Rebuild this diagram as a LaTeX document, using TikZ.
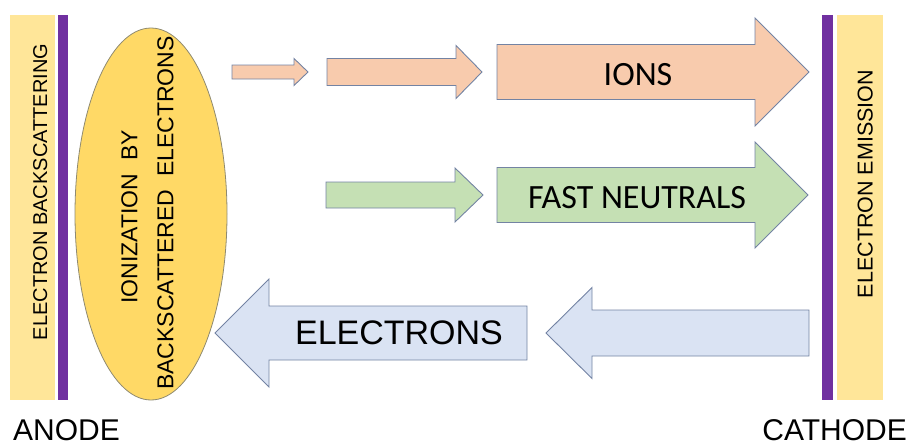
\documentclass[tikz,border=0pt]{standalone}
\usepackage{fontspec}
\usetikzlibrary{shapes.geometric}
\setmainfont{Liberation Sans}
\newfontfamily\calfont{Carlito}
\definecolor{stripfill}{HTML}{FFE699}
\definecolor{plate}{HTML}{7030A0}
\definecolor{cloudfill}{HTML}{FFD966}
\definecolor{cloudline}{HTML}{8F8A70}
\definecolor{ionfill}{HTML}{F8CBAD}
\definecolor{neutralfill}{HTML}{C5E0B4}
\definecolor{electronfill}{HTML}{DAE3F3}
\definecolor{arrowline}{HTML}{7383A3}

% block arrow: style, tail x, tip x, centre y, shaft half-height, head half-height, head base x
\newcommand{\blockarrow}[7]{%
  \draw[#1] (#2,#4-#5) -- (#7,#4-#5) -- (#7,#4-#6) -- (#3,#4) -- (#7,#4+#6)
    -- (#7,#4+#5) -- (#2,#4+#5) -- cycle;}

\tikzset{
  arrowbody/.style={draw=arrowline, line width=0.9pt, line join=miter},
  ionarrow/.style={arrowbody, fill=ionfill},
  neutralarrow/.style={arrowbody, fill=neutralfill},
  electronarrow/.style={arrowbody, fill=electronfill},
  % text centred on its capitals: the argument is the cap height
  caps/.style={inner sep=0pt, text depth=0pt, text height=#1},
  sidelabel/.style={caps=#1, rotate=90},
  electrode/.style={inner sep=0pt, text depth=0pt, font=\fontsize{30}{36}\selectfont},
}

\begin{document}
\begin{tikzpicture}[x=1pt, y=-1pt]
  \useasboundingbox (0,0) rectangle (909,444);

  % anode side
  \fill[stripfill] (10,15) rectangle (55,400);
  \fill[plate] (58,15) rectangle (68,400);
  \node[sidelabel=14.3pt, font=\fontsize{20}{24}\selectfont] (backscatter) at (40,192)
    {ELECTRON BACKSCATTERING};

  % cathode side
  \fill[plate] (822,15) rectangle (833,400);
  \fill[stripfill] (837,15) rectangle (883,400);
  \node[sidelabel=15.4pt, font=\fontsize{21.5}{25}\selectfont] (emission) at (865,184)
    {ELECTRON EMISSION};

  % ionization region
  \node[ellipse, draw=cloudline, fill=cloudfill, line width=0.8pt,
        minimum width=152pt, minimum height=372pt, inner sep=0pt] (cloud) at (151,214) {};
  \node[sidelabel=16.5pt, font=\fontsize{23}{27}\selectfont] (ionline) at (129,217)
    {IONIZATION\ \ BY};
  \node[sidelabel=16.5pt, font=\fontsize{23}{27}\selectfont] (backline) at (165,213)
    {BACKSCATTERED\ \ ELECTRONS};

  % ions
  \blockarrow{ionarrow}{232}{308}{72}{7}{13.5}{294}
  \blockarrow{ionarrow}{327}{482}{72}{13.5}{26.5}{456}
  \blockarrow{ionarrow}{497}{809}{72}{27.5}{54}{755}
  \node[caps=21.9pt, font=\calfont\fontsize{34}{40}\selectfont] (ions) at (638,74.5) {IONS};

  % fast neutrals
  \blockarrow{neutralarrow}{326}{483}{195}{13}{27}{455}
  \blockarrow{neutralarrow}{497}{808}{195}{27.5}{53}{755}
  \node[caps=21.9pt, font=\calfont\fontsize{34}{40}\selectfont] (neutrals) at (637,197.5) {FAST NEUTRALS};

  % electrons
  \blockarrow{electronarrow}{809}{546}{333}{23}{45.5}{592}
  \blockarrow{electronarrow}{527}{215}{333}{27}{54}{269}
  \node[caps=24.3pt, font=\fontsize{34}{40}\selectfont] (electrons) at (399,332) {ELECTRONS};

  % electrode names
  \node[electrode, anchor=base west] (anode) at (13,440) {ANODE};
  \node[electrode, anchor=base east] (cathode) at (907,440) {CATHODE};
\end{tikzpicture}
\end{document}
